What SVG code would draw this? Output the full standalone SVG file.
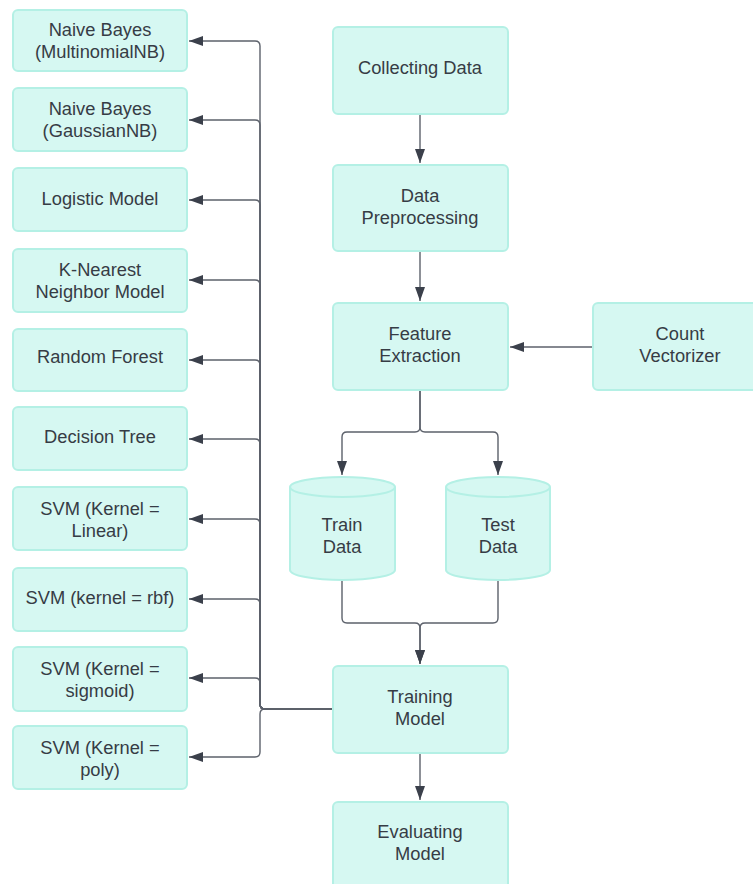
<svg xmlns="http://www.w3.org/2000/svg" width="753" height="884" viewBox="0 0 753 884">
  <style>
    .box { fill: #d6f8f2; stroke: #b4f0e5; stroke-width: 2; }
    .lbl { font-family: "Liberation Sans", Arial, sans-serif; font-size: 18.3px; fill: #363c45; text-anchor: middle; }
    .conn { fill: none; stroke: #5c616b; stroke-width: 1.4; }
  </style>
  <defs>
    <marker id="arrow" markerUnits="userSpaceOnUse" markerWidth="15" markerHeight="11" refX="14" refY="5" orient="auto">
      <path d="M0,0 L14,5 L0,10 z" fill="#3b404b"/>
    </marker>
  </defs>

  <rect width="753" height="884" fill="#ffffff"/>

  <!-- connectors -->
  <g id="connectors">
    <!-- main pipeline -->
    <path class="conn" d="M420,114 V163" marker-end="url(#arrow)"/>
    <path class="conn" d="M420,251 V301" marker-end="url(#arrow)"/>
    <path class="conn" d="M593,347 H510" marker-end="url(#arrow)"/>
    <path class="conn" d="M420,390 V427 Q420,432 415,432 H347 Q342,432 342,437 V475" marker-end="url(#arrow)"/>
    <path class="conn" d="M420,390 V427 Q420,432 425,432 H493 Q498,432 498,437 V475" marker-end="url(#arrow)"/>
    <path class="conn" d="M342,580 V618 Q342,623 347,623 H415 Q420,623 420,628 V664" marker-end="url(#arrow)"/>
    <path class="conn" d="M498,580 V618 Q498,623 493,623 H425 Q420,623 420,628 V664" marker-end="url(#arrow)"/>
    <path class="conn" d="M420,753 V800" marker-end="url(#arrow)"/>
    <!-- fan-out from Training Model to the classifiers -->
    <path class="conn" d="M333,709 H265 Q260,709 260,704 V46 Q260,41 255,41 H189" marker-end="url(#arrow)"/>
    <path class="conn" d="M333,709 H265 Q260,709 260,704 V125 Q260,120 255,120 H189" marker-end="url(#arrow)"/>
    <path class="conn" d="M333,709 H265 Q260,709 260,704 V205 Q260,200 255,200 H189" marker-end="url(#arrow)"/>
    <path class="conn" d="M333,709 H265 Q260,709 260,704 V285 Q260,280 255,280 H189" marker-end="url(#arrow)"/>
    <path class="conn" d="M333,709 H265 Q260,709 260,704 V365 Q260,360 255,360 H189" marker-end="url(#arrow)"/>
    <path class="conn" d="M333,709 H265 Q260,709 260,704 V444 Q260,439 255,439 H189" marker-end="url(#arrow)"/>
    <path class="conn" d="M333,709 H265 Q260,709 260,704 V524 Q260,519 255,519 H189" marker-end="url(#arrow)"/>
    <path class="conn" d="M333,709 H265 Q260,709 260,704 V604 Q260,599 255,599 H189" marker-end="url(#arrow)"/>
    <path class="conn" d="M333,709 H265 Q260,709 260,704 V683 Q260,678 255,678 H189" marker-end="url(#arrow)"/>
    <path class="conn" d="M333,709 H265 Q260,709 260,714 V752 Q260,757 255,757 H189" marker-end="url(#arrow)"/>
  </g>

  <!-- pipeline nodes -->
  <g id="collecting-data">
    <rect class="box" x="333" y="27" width="175" height="87" rx="5"/>
    <text class="lbl" x="420" y="74">Collecting Data</text>
  </g>
  <g id="data-preprocessing">
    <rect class="box" x="333" y="165" width="175" height="86" rx="5"/>
    <text class="lbl" x="420" y="202">Data</text>
    <text class="lbl" x="420" y="224">Preprocessing</text>
  </g>
  <g id="feature-extraction">
    <rect class="box" x="333" y="303" width="175" height="87" rx="5"/>
    <text class="lbl" x="420" y="340">Feature</text>
    <text class="lbl" x="420" y="362">Extraction</text>
  </g>
  <g id="count-vectorizer">
    <rect class="box" x="593" y="303" width="175" height="87" rx="5"/>
    <text class="lbl" x="680" y="340">Count</text>
    <text class="lbl" x="680" y="362">Vectorizer</text>
  </g>
  <g id="train-data">
    <path class="box" d="M290,487 A52.5,10 0 0 1 395,487 V570 A52.5,10 0 0 1 290,570 Z"/>
    <path fill="none" stroke="#b4f0e5" stroke-width="2" d="M290,487 A52.5,10 0 0 0 395,487"/>
    <text class="lbl" x="342" y="531">Train</text>
    <text class="lbl" x="342" y="553">Data</text>
  </g>
  <g id="test-data">
    <path class="box" d="M446,487 A52,10 0 0 1 550,487 V570 A52,10 0 0 1 446,570 Z"/>
    <path fill="none" stroke="#b4f0e5" stroke-width="2" d="M446,487 A52,10 0 0 0 550,487"/>
    <text class="lbl" x="498" y="531">Test</text>
    <text class="lbl" x="498" y="553">Data</text>
  </g>
  <g id="training-model">
    <rect class="box" x="333" y="666" width="175" height="87" rx="5"/>
    <text class="lbl" x="420" y="703">Training</text>
    <text class="lbl" x="420" y="725">Model</text>
  </g>
  <g id="evaluating-model">
    <rect class="box" x="333" y="802" width="175" height="87" rx="5"/>
    <text class="lbl" x="420" y="838">Evaluating</text>
    <text class="lbl" x="420" y="860">Model</text>
  </g>

  <!-- classifiers -->
  <g id="nb-multinomial">
    <rect class="box" x="13" y="10" width="174" height="61" rx="5"/>
    <text class="lbl" x="100" y="36">Naive Bayes</text>
    <text class="lbl" x="100" y="58">(MultinomialNB)</text>
  </g>
  <g id="nb-gaussian">
    <rect class="box" x="13" y="88" width="174" height="63" rx="5"/>
    <text class="lbl" x="100" y="115">Naive Bayes</text>
    <text class="lbl" x="100" y="137">(GaussianNB)</text>
  </g>
  <g id="logistic">
    <rect class="box" x="13" y="168" width="174" height="63" rx="5"/>
    <text class="lbl" x="100" y="205">Logistic Model</text>
  </g>
  <g id="knn">
    <rect class="box" x="13" y="249" width="174" height="63" rx="5"/>
    <text class="lbl" x="100" y="276">K-Nearest</text>
    <text class="lbl" x="100" y="298">Neighbor Model</text>
  </g>
  <g id="random-forest">
    <rect class="box" x="13" y="329" width="174" height="62" rx="5"/>
    <text class="lbl" x="100" y="363">Random Forest</text>
  </g>
  <g id="decision-tree">
    <rect class="box" x="13" y="407" width="174" height="63" rx="5"/>
    <text class="lbl" x="100" y="443">Decision Tree</text>
  </g>
  <g id="svm-linear">
    <rect class="box" x="13" y="487" width="174" height="63" rx="5"/>
    <text class="lbl" x="100" y="515">SVM (Kernel =</text>
    <text class="lbl" x="100" y="537">Linear)</text>
  </g>
  <g id="svm-rbf">
    <rect class="box" x="13" y="568" width="174" height="63" rx="5"/>
    <text class="lbl" x="100" y="604">SVM (kernel = rbf)</text>
  </g>
  <g id="svm-sigmoid">
    <rect class="box" x="13" y="647" width="174" height="64" rx="5"/>
    <text class="lbl" x="100" y="675">SVM (Kernel =</text>
    <text class="lbl" x="100" y="697">sigmoid)</text>
  </g>
  <g id="svm-poly">
    <rect class="box" x="13" y="726" width="174" height="63" rx="5"/>
    <text class="lbl" x="100" y="754">SVM (Kernel =</text>
    <text class="lbl" x="100" y="776">poly)</text>
  </g>
</svg>
